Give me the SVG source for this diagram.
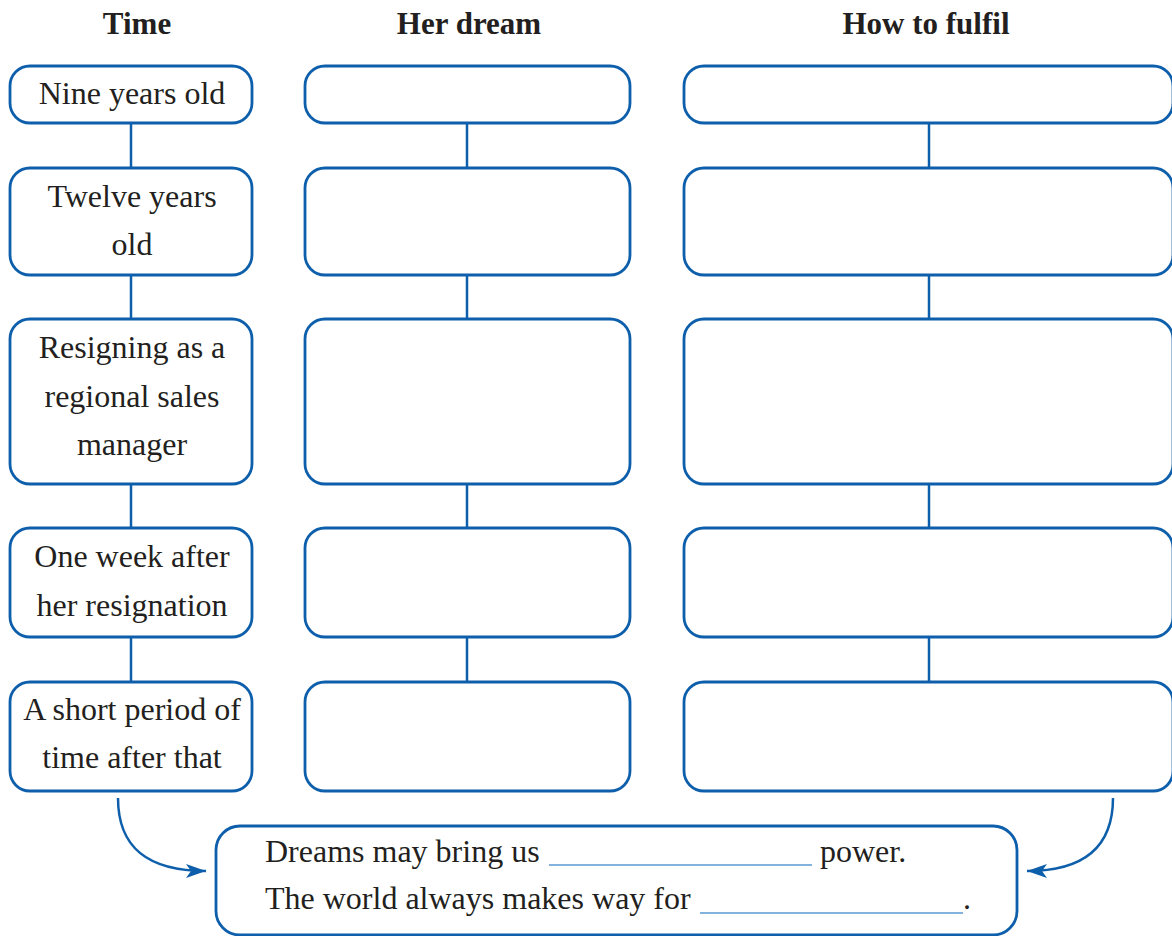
<svg xmlns="http://www.w3.org/2000/svg" width="1172" height="936" viewBox="0 0 1172 936">
<style>
.box{fill:#ffffff;stroke:#0e5fab;stroke-width:2.8}
.ln{stroke:#0e5fab;stroke-width:2.5;fill:none}
.t{font-family:"Liberation Serif","Times New Roman",serif;font-size:32px;fill:#231f20;text-anchor:middle}
.h{font-family:"Liberation Serif","Times New Roman",serif;font-size:31px;font-weight:bold;fill:#231f20;text-anchor:middle}
.s{font-family:"Liberation Serif","Times New Roman",serif;font-size:32px;fill:#231f20}
.blank{stroke:#5a9ad2;stroke-width:1.6}
</style>
<defs>
<marker id="arr" markerWidth="22" markerHeight="16" refX="20" refY="8" orient="auto" markerUnits="userSpaceOnUse">
<path d="M0,1 L20,8 L0,15 L5,8 Z" fill="#0e5fab"/>
</marker>
</defs>
<rect width="1172" height="936" fill="#ffffff"/>
<g id="headers">
<text class="h" x="137" y="34">Time</text>
<text class="h" x="469" y="34">Her dream</text>
<text class="h" x="926" y="34">How to fulfil</text>
</g>
<g id="connectors">
<line class="ln" x1="131" y1="123" x2="131" y2="168"/>
<line class="ln" x1="131" y1="275" x2="131" y2="319"/>
<line class="ln" x1="131" y1="484" x2="131" y2="528"/>
<line class="ln" x1="131" y1="637" x2="131" y2="682"/>
<line class="ln" x1="467" y1="123" x2="467" y2="168"/>
<line class="ln" x1="467" y1="275" x2="467" y2="319"/>
<line class="ln" x1="467" y1="484" x2="467" y2="528"/>
<line class="ln" x1="467" y1="637" x2="467" y2="682"/>
<line class="ln" x1="929" y1="123" x2="929" y2="168"/>
<line class="ln" x1="929" y1="275" x2="929" y2="319"/>
<line class="ln" x1="929" y1="484" x2="929" y2="528"/>
<line class="ln" x1="929" y1="637" x2="929" y2="682"/>
<path class="ln" d="M118,798 C118,848 148,871 206,871" marker-end="url(#arr)"/>
<path class="ln" d="M1113,798 C1113,848 1083,871 1027,871" marker-end="url(#arr)"/>
</g>
<g id="time1"><rect class="box" x="10" y="66" width="242" height="57" rx="20"/><text class="t" x="132" y="104">Nine years old</text></g>
<g id="time2"><rect class="box" x="10" y="168" width="242" height="107" rx="20"/><text class="t" x="132" y="207">Twelve years</text><text class="t" x="132" y="255">old</text></g>
<g id="time3"><rect class="box" x="10" y="319" width="242" height="165" rx="20"/><text class="t" x="132" y="358">Resigning as a</text><text class="t" x="132" y="407">regional sales</text><text class="t" x="132" y="455">manager</text></g>
<g id="time4"><rect class="box" x="10" y="528" width="242" height="109" rx="20"/><text class="t" x="132" y="567">One week after</text><text class="t" x="132" y="616">her resignation</text></g>
<g id="time5"><rect class="box" x="10" y="682" width="242" height="109" rx="20"/><text class="t" x="132" y="720">A short period of</text><text class="t" x="132" y="768">time after that</text></g>
<g id="dream1"><rect class="box" x="305" y="66" width="325" height="57" rx="20"/></g>
<g id="dream2"><rect class="box" x="305" y="168" width="325" height="107" rx="20"/></g>
<g id="dream3"><rect class="box" x="305" y="319" width="325" height="165" rx="20"/></g>
<g id="dream4"><rect class="box" x="305" y="528" width="325" height="109" rx="20"/></g>
<g id="dream5"><rect class="box" x="305" y="682" width="325" height="109" rx="20"/></g>
<g id="how1"><rect class="box" x="684" y="66" width="489" height="57" rx="20"/></g>
<g id="how2"><rect class="box" x="684" y="168" width="489" height="107" rx="20"/></g>
<g id="how3"><rect class="box" x="684" y="319" width="489" height="165" rx="20"/></g>
<g id="how4"><rect class="box" x="684" y="528" width="489" height="109" rx="20"/></g>
<g id="how5"><rect class="box" x="684" y="682" width="489" height="109" rx="20"/></g>
<g id="summary">
<rect class="box" x="216" y="826" width="801" height="109" rx="24"/>
<text class="s" x="265" y="862">Dreams may bring us</text>
<line class="blank" x1="549" y1="865" x2="812" y2="865"/>
<text class="s" x="820" y="862">power.</text>
<text class="s" x="265" y="909">The world always makes way for</text>
<line class="blank" x1="700" y1="913" x2="963" y2="913"/>
<text class="s" x="963" y="909">.</text>
</g>
</svg>
